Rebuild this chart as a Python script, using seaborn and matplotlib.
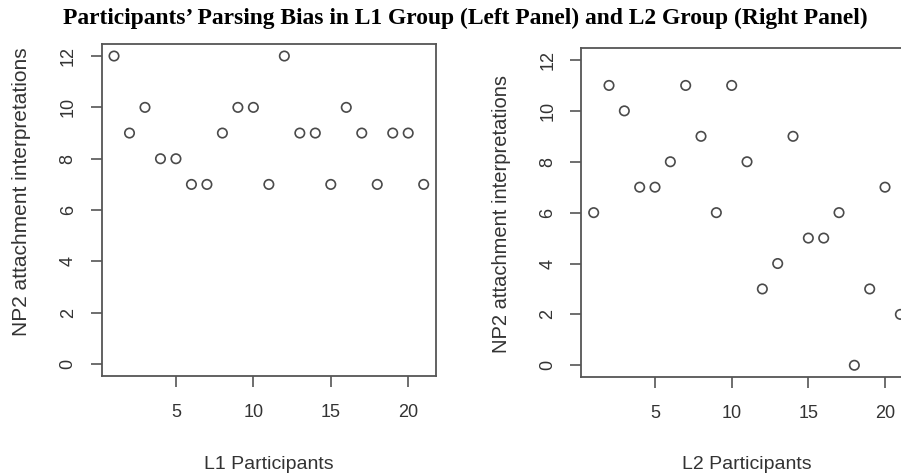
import numpy as np
import pandas as pd
import matplotlib
matplotlib.use('Agg')
import matplotlib.pyplot as plt
import seaborn as sns

# 데이터
l1_participants = list(range(1, 22))
l1_np2 = [12, 9, 10, 8, 8, 7, 7, 9, 10, 10, 7, 12, 9, 9, 7, 10, 9, 7, 9, 9, 7]

l2_participants = list(range(1, 22))
l2_np2 = [6, 11, 10, 7, 7, 8, 11, 9, 6, 11, 8, 3, 4, 9, 5, 5, 6, 0, 3, 7, 2]

title = "Participants\u2019 Parsing Bias in L1 Group (Left Panel) and L2 Group (Right Panel)"
ylabel = "NP2 attachment interpretations"
xticks = [5, 10, 15, 20]
yticks = [0, 2, 4, 6, 8, 10, 12]

sns.set_style('white')
plt.rcParams['font.family'] = ['Liberation Sans', 'DejaVu Sans']

df_l1 = pd.DataFrame({'participant': l1_participants, 'np2': l1_np2})
df_l2 = pd.DataFrame({'participant': l2_participants, 'np2': l2_np2})

fig = plt.figure(figsize=(9.01, 4.75), dpi=100)
ax1 = fig.add_axes([0.1128, 0.2074, 0.3712, 0.7006])
ax2 = fig.add_axes([0.6453, 0.2053, 0.3676, 0.6941])

pt_color = '#4a4a4a'
axis_color = '#555555'
text_color = '#333333'

panels = [
    (ax1, df_l1, 'L1 Participants', -0.212, 0.556, 15.0),
    (ax2, df_l2, 'L2 Participants', -0.212, 0.496, 14.5),
]

for ax, df, xlab, ylab_x, ylab_y, ylab_size in panels:
    sns.scatterplot(data=df, x='participant', y='np2', ax=ax, marker='o', s=46,
                    facecolors='none', edgecolor=pt_color, linewidth=1.2, clip_on=False)
    ax.set_xlim(0.2, 21.8)
    ax.set_ylim(-0.48, 12.48)
    ax.set_xticks(xticks)
    ax.set_yticks(yticks)
    for sp in ax.spines.values():
        sp.set_visible(True)
        sp.set_color(axis_color)
        sp.set_linewidth(1.3)
    ax.tick_params(axis='both', direction='out', length=8, width=1.2, color=axis_color,
                   labelsize=13, labelcolor=text_color, left=True, bottom=True)
    ax.tick_params(axis='x', pad=12)
    ax.tick_params(axis='y', pad=10)
    for lab in ax.get_yticklabels():
        lab.set_rotation(90)
        lab.set_va('center')
    ax.set_xlabel(xlab, fontsize=14, color=text_color)
    ax.set_ylabel(ylabel, fontsize=ylab_size, color=text_color)
    ax.xaxis.set_label_coords(0.5, -0.238)
    ax.yaxis.set_label_coords(ylab_x, ylab_y)

fig.text(0.516, 0.962, title, ha='center', va='center', fontsize=16.9, fontweight='bold',
         family=['Liberation Serif', 'DejaVu Serif'], color='black')

fig.savefig('out.png', dpi=100)
